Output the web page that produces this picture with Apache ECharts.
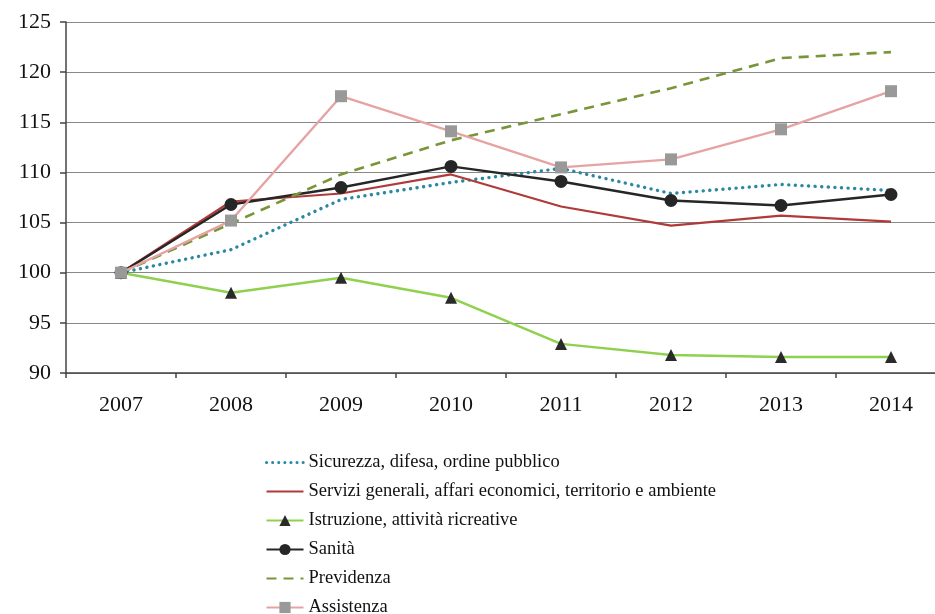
<!DOCTYPE html>
<html>
<head>
<meta charset="utf-8">
<script src="https://cdn.jsdelivr.net/npm/echarts@6/dist/echarts.min.js"></script>
<style>
  html, body { margin: 0; padding: 0; background: #fff; }
  #chart { width: 935px; height: 614px; }
</style>
</head>
<body>
<div id="chart"></div>
<script>
// dati
const anni = ['2007', '2008', '2009', '2010', '2011', '2012', '2013', '2014'];
const sicurezza = [100, 102.3, 107.3, 109.0, 110.4, 107.9, 108.8, 108.2];
const servizi = [100, 107.1, 107.9, 109.8, 106.6, 104.7, 105.7, 105.1];
const istruzione = [100, 98.0, 99.5, 97.5, 92.9, 91.8, 91.6, 91.6];
const sanita = [100, 106.8, 108.5, 110.6, 109.1, 107.2, 106.7, 107.8];
const previdenza = [100, 104.9, 109.8, 113.2, 115.8, 118.4, 121.4, 122.0];
const assistenza = [100, 105.2, 117.6, 114.1, 110.5, 111.3, 114.3, 118.1];

const serif = '"Liberation Serif", "DejaVu Serif", serif';
const nascondi = { opacity: 0 };

const chart = echarts.init(document.getElementById('chart'));

chart.setOption({
    animation: false,
    textStyle: { fontFamily: serif },
    // la griglia esce un po' dal bordo destro, come nell'originale
    grid: { left: 66, top: 22, width: 880, height: 351, outerBoundsMode: 'none', containLabel: false },
    legend: {
        orient: 'vertical',
        left: 265,
        top: 453,
        height: 300,
        padding: 0,
        itemWidth: 37,
        itemHeight: 14,
        itemGap: 10,
        textStyle: { fontFamily: serif, fontSize: 18.5, color: '#111' },
        data: [
            { name: 'Sicurezza, difesa, ordine pubblico', itemStyle: nascondi,
              lineStyle: { width: 3, type: [0.1, 6], cap: 'round' } },
            { name: 'Servizi generali, affari economici, territorio e ambiente', itemStyle: nascondi },
            'Istruzione, attività ricreative',
            'Sanità',
            { name: 'Previdenza', itemStyle: nascondi },
            'Assistenza'
        ]
    },
    xAxis: {
        type: 'category',
        data: anni,
        boundaryGap: true,
        axisLine: { lineStyle: { color: '#444', width: 1.5 } },
        axisTick: { show: true, length: 5, lineStyle: { color: '#444', width: 1.5 } },
        axisLabel: { fontFamily: serif, fontSize: 22, color: '#111', margin: 21 },
        splitLine: { show: false }
    },
    yAxis: {
        type: 'value',
        min: 90,
        max: 125,
        interval: 5,
        axisLine: { show: true, lineStyle: { color: '#444', width: 1.5 } },
        axisTick: { show: true, length: 6, lineStyle: { color: '#444', width: 1.5 } },
        axisLabel: { fontFamily: serif, fontSize: 22, color: '#111', margin: 15 },
        splitLine: { lineStyle: { color: '#888', width: 1.2 } }
    },
    series: [
        {
            name: 'Sicurezza, difesa, ordine pubblico',
            type: 'line',
            data: sicurezza,
            symbol: 'none',
            color: '#2b88a3',
            lineStyle: { color: '#2b88a3', width: 3.4, type: [0.1, 6.5], cap: 'round' }
        },
        {
            name: 'Servizi generali, affari economici, territorio e ambiente',
            type: 'line',
            data: servizi,
            symbol: 'none',
            color: '#b03a3a',
            lineStyle: { color: '#b03a3a', width: 2.2 }
        },
        {
            name: 'Istruzione, attività ricreative',
            type: 'line',
            data: istruzione,
            symbol: 'triangle',
            symbolSize: 12,
            color: '#8fd14f',
            itemStyle: { color: '#2a2a2a' },
            lineStyle: { color: '#8fd14f', width: 2.4 }
        },
        {
            name: 'Sanità',
            type: 'line',
            data: sanita,
            symbol: 'circle',
            symbolSize: 13,
            color: '#262626',
            itemStyle: { color: '#262626' },
            lineStyle: { color: '#262626', width: 2.4 }
        },
        {
            name: 'Previdenza',
            type: 'line',
            data: previdenza,
            symbol: 'none',
            color: '#78953a',
            lineStyle: { color: '#78953a', width: 2.6, type: [10, 7] }
        },
        {
            name: 'Assistenza',
            type: 'line',
            data: assistenza,
            symbol: 'rect',
            symbolSize: 12,
            color: '#e6a3a3',
            itemStyle: { color: '#999999' },
            lineStyle: { color: '#e6a3a3', width: 2.4 }
        }
    ]
});
</script>
</body>
</html>
